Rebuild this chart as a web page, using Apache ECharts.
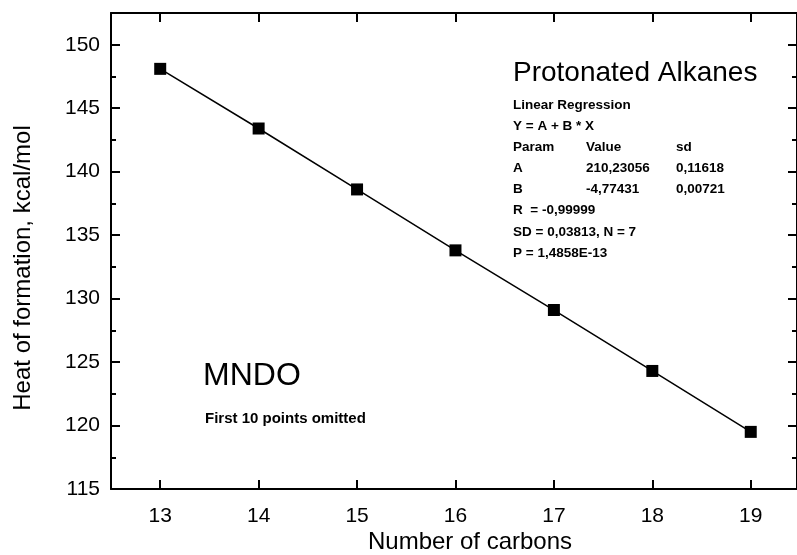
<!DOCTYPE html>
<html>
<head>
<meta charset="utf-8">
<script src="https://cdn.jsdelivr.net/npm/echarts@6/dist/echarts.min.js"></script>
<style>html,body{margin:0;padding:0;background:#fff}#c{width:797px;height:555px}</style>
</head>
<body>
<div id="c"></div>
<script>
// ---- data ----
const carbons = [13, 14, 15, 16, 17, 18, 19];
const heatOfFormation = [148.1, 143.4, 138.6, 133.8, 129.1, 124.3, 119.5];
const xTicks = [13, 14, 15, 16, 17, 18, 19];
const yTicks = [115, 120, 125, 130, 135, 140, 145, 150];
const yMinorTicks = [117.5, 122.5, 127.5, 132.5, 137.5, 142.5, 147.5];
const titleText = 'Protonated Alkanes';
const regressionCol1 = ['Linear Regression', 'Y = A + B * X', 'Param', 'A', 'B', 'R  = -0,99999', 'SD = 0,03813, N = 7', 'P = 1,4858E-13'];
const regressionCol2 = ['', '', 'Value', '210,23056', '-4,77431', '', '', ''];
const regressionCol3 = ['', '', 'sd', '0,11618', '0,00721', '', '', ''];
const methodText = 'MNDO';
const noteText = 'First 10 points omitted';
const xName = 'Number of carbons';
const yName = 'Heat of formation, kcal/mol';

const FONT = '"Liberation Sans", Arial, Helvetica, sans-serif';
const X_MIN = 12.5, X_MAX = 19.47, Y_MIN = 115, Y_MAX = 152.5;

const chart = echarts.init(document.getElementById('c'), null, {renderer: 'canvas'});

const lineStyle = {color: '#000', width: 2};
function yAx(pos, vals, len, showLine, showLabel) {
  return {
    type: 'value', position: pos, min: Y_MIN, max: Y_MAX,
    splitLine: {show: false},
    axisLine: {show: showLine, lineStyle: lineStyle},
    axisTick: {show: true, inside: true, length: len, customValues: vals, lineStyle: lineStyle},
    axisLabel: showLabel ? {show: true, customValues: vals, margin: 11, color: '#000', fontSize: 21, fontFamily: FONT} : {show: false}
  };
}

const blockX = [513, 586, 676];
const blockY = [105, 126, 147, 168, 189, 210, 232, 253];
const graphics = [];
graphics.push({type: 'text', x: 513, y: 73, style: {text: titleText, fontSize: 28, fontFamily: FONT, fill: '#000', verticalAlign: 'middle'}});
[regressionCol1, regressionCol2, regressionCol3].forEach((col, ci) => {
  col.forEach((t, ri) => {
    if (!t) return;
    graphics.push({type: 'text', x: blockX[ci], y: blockY[ri],
      style: {text: t, fontSize: 13.5, fontWeight: 'bold', fontFamily: FONT, fill: '#000', verticalAlign: 'middle'}});
  });
});
graphics.push({type: 'text', x: 203, y: 376, style: {text: methodText, fontSize: 32, fontFamily: FONT, fill: '#000', verticalAlign: 'middle'}});
graphics.push({type: 'text', x: 205, y: 419, style: {text: noteText, fontSize: 15, fontWeight: 'bold', fontFamily: FONT, fill: '#000', verticalAlign: 'middle'}});
// axis titles
graphics.push({type: 'text', x: 470, y: 542, style: {text: xName, fontSize: 24, fontFamily: FONT, fill: '#000', align: 'center', verticalAlign: 'middle'}});
graphics.push({type: 'text', x: 23, y: 268, rotation: Math.PI / 2, style: {text: yName, fontSize: 24, fontFamily: FONT, fill: '#000', align: 'center', verticalAlign: 'middle'}});

chart.setOption({
  animation: false,
  backgroundColor: '#fff',
  grid: {left: 111, top: 13, width: 689, height: 476, containLabel: false},
  xAxis: [
    {
      type: 'value', position: 'bottom', min: X_MIN, max: X_MAX,
      splitLine: {show: false},
      axisLine: {show: true, lineStyle: lineStyle},
      axisTick: {show: true, inside: true, length: 9, customValues: xTicks, lineStyle: lineStyle},
      axisLabel: {show: true, customValues: xTicks, margin: 17, color: '#000', fontSize: 21, fontFamily: FONT}
    },
    {
      type: 'value', position: 'top', min: X_MIN, max: X_MAX,
      splitLine: {show: false},
      axisLine: {show: true, lineStyle: lineStyle},
      axisTick: {show: true, inside: true, length: 9, customValues: xTicks, lineStyle: lineStyle},
      axisLabel: {show: false}
    }
  ],
  yAxis: [
    yAx('left', yTicks, 9, true, true),
    yAx('right', yTicks, 9, true, false),
    yAx('left', yMinorTicks, 5, false, false),
    yAx('right', yMinorTicks, 5, false, false)
  ],
  series: [{
    type: 'line',
    data: carbons.map((c, i) => [c, heatOfFormation[i]]),
    symbol: 'rect', symbolSize: 12,
    itemStyle: {color: '#000'},
    lineStyle: {color: '#000', width: 1.5},
    clip: false
  }],
  graphic: graphics
});
</script>
</body>
</html>
